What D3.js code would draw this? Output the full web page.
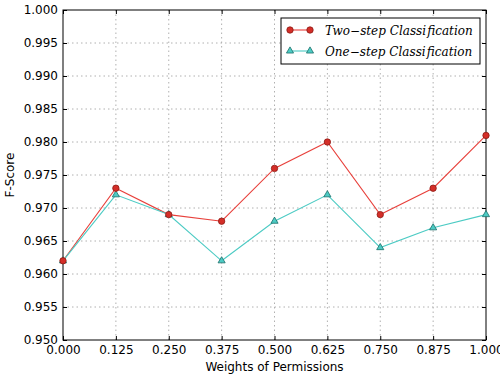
<!DOCTYPE html>
<meta charset="utf-8">
<style>
body { margin: 0; background: #fff; }
text { font-family: "DejaVu Sans", sans-serif; }
.grid line { stroke: #b0b0b0; stroke-dasharray: 1.5,3; stroke-width: 1; }
</style>
<body>
<div id="chart"></div>
<script src="https://cdn.jsdelivr.net/npm/d3@7"></script>
<script>

var WIDTH = 500;
var HEIGHT = 377;
var margin = {top: 10, right: 14, bottom: 37, left: 63};

var weights = [0, 0.125, 0.25, 0.375, 0.5, 0.625, 0.75, 0.875, 1.0];
var twoStep = [0.962, 0.973, 0.969, 0.968, 0.976, 0.980, 0.969, 0.973, 0.981];
var oneStep = [0.962, 0.972, 0.969, 0.962, 0.968, 0.972, 0.964, 0.967, 0.969];
var xTicks = [0, 0.125, 0.25, 0.375, 0.5, 0.625, 0.75, 0.875, 1.0];
var yTicks = [0.950, 0.955, 0.960, 0.965, 0.970, 0.975, 0.980, 0.985, 0.990, 0.995, 1.000];

var TWO_COLOR = '#e8413c';
var TWO_EDGE = '#8b1a14';
var ONE_COLOR = '#4ccbc4';
var ONE_EDGE = '#1a6e6a';

var svg = d3.select('#chart').append('svg')
    .attr('width', WIDTH)
    .attr('height', HEIGHT);

var w = WIDTH - margin.left - margin.right;
var h = HEIGHT - margin.top - margin.bottom;
var g = svg.append('g').attr('transform', 'translate(' + margin.left + ',' + margin.top + ')');

var x = d3.scaleLinear().domain([0, 1]).range([0, w]);
var y = d3.scaleLinear().domain([0.95, 1.0]).range([h, 0]);

// grid
g.append('g').attr('class', 'grid')
  .selectAll('line').data(xTicks.slice(1, -1)).enter().append('line')
    .attr('x1', function(d) { return x(d); })
    .attr('x2', function(d) { return x(d); })
    .attr('y1', 0).attr('y2', h);
g.append('g').attr('class', 'grid')
  .selectAll('line').data(yTicks.slice(1, -1)).enter().append('line')
    .attr('y1', function(d) { return y(d); })
    .attr('y2', function(d) { return y(d); })
    .attr('x1', 0).attr('x2', w);

// axes with inward ticks
var xAxis = g.append('g').attr('transform', 'translate(0,' + h + ')')
  .call(d3.axisBottom(x).tickValues(xTicks).tickFormat(d3.format('.3f')).tickSizeInner(-4).tickSizeOuter(0).tickPadding(5));
var xTop = g.append('g')
  .call(d3.axisTop(x).tickValues(xTicks).tickFormat('').tickSizeInner(-4).tickSizeOuter(0));
var yAxis = g.append('g')
  .call(d3.axisLeft(y).tickValues(yTicks).tickFormat(d3.format('.3f')).tickSizeInner(-4).tickSizeOuter(0).tickPadding(5));
var yRight = g.append('g').attr('transform', 'translate(' + w + ',0)')
  .call(d3.axisRight(y).tickValues(yTicks).tickFormat('').tickSizeInner(-4).tickSizeOuter(0));
[xAxis, xTop, yAxis, yRight].forEach(function(a) {
  a.select('.domain').remove();
  a.selectAll('line').attr('stroke', '#000');
  a.selectAll('text').attr('font-size', 12).attr('fill', '#000')
    .style('font-family', '"DejaVu Sans", sans-serif');
});

g.append('rect')
  .attr('width', w).attr('height', h)
  .attr('fill', 'none').attr('stroke', '#000').attr('stroke-width', 1);

// lines
var line2 = d3.line().x(function(d, i) { return x(weights[i]); }).y(function(d) { return y(d); });
g.append('path').datum(twoStep)
  .attr('d', line2).attr('fill', 'none').attr('stroke', TWO_COLOR).attr('stroke-width', 1.1);
g.append('path').datum(oneStep)
  .attr('d', line2).attr('fill', 'none').attr('stroke', ONE_COLOR).attr('stroke-width', 1.1);

var tri = d3.symbol().type(d3.symbolTriangle).size(22);
g.selectAll('.tri').data(oneStep).enter().append('path')
  .attr('class', 'tri')
  .attr('transform', function(d, i) { return 'translate(' + x(weights[i]) + ',' + y(d) + ')'; })
  .attr('d', tri)
  .attr('fill', ONE_COLOR).attr('stroke', ONE_EDGE).attr('stroke-width', 0.8);
g.selectAll('.dot').data(twoStep).enter().append('circle')
  .attr('class', 'dot')
  .attr('cx', function(d, i) { return x(weights[i]); })
  .attr('cy', function(d) { return y(d); })
  .attr('r', 3.2)
  .attr('fill', '#d42e28').attr('stroke', TWO_EDGE).attr('stroke-width', 0.8);

// axis labels
svg.append('text')
  .attr('x', margin.left + w / 2).attr('y', 371)
  .attr('text-anchor', 'middle').attr('font-size', 12)
  .text('Weights of Permissions');
svg.append('text')
  .attr('transform', 'translate(14,' + (margin.top + h / 2) + ') rotate(-90)')
  .attr('text-anchor', 'middle').attr('font-size', 12)
  .text('F-Score');

// legend
var lg = svg.append('g').attr('transform', 'translate(281,18)');
lg.append('rect')
  .attr('width', 199).attr('height', 46)
  .attr('fill', '#fff').attr('stroke', '#000').attr('stroke-width', 1);
var legendItems = [
  {label: 'Two\u2212step Classi\u200afication', color: TWO_COLOR, fill: '#d42e28', edge: TWO_EDGE, marker: 'circle'},
  {label: 'One\u2212step Classi\u200afication', color: ONE_COLOR, fill: ONE_COLOR, edge: ONE_EDGE, marker: 'triangle'}
];
legendItems.forEach(function(it, i) {
  var yy = 12 + i * 21;
  lg.append('line').attr('x1', 9).attr('x2', 29).attr('y1', yy).attr('y2', yy)
    .attr('stroke', it.color).attr('stroke-width', 1.1);
  [9, 29].forEach(function(px) {
    if (it.marker === 'circle') {
      lg.append('circle').attr('cx', px).attr('cy', yy).attr('r', 3.2)
        .attr('fill', it.fill).attr('stroke', it.edge).attr('stroke-width', 0.8);
    } else {
      lg.append('path').attr('transform', 'translate(' + px + ',' + yy + ')').attr('d', tri)
        .attr('fill', it.fill).attr('stroke', it.edge).attr('stroke-width', 0.8);
    }
  });
  lg.append('text').attr('x', 44).attr('y', yy + 4.5)
    .attr('font-size', 12).style('font-family', '"DejaVu Serif", serif').style('font-style', 'italic')
    .text(it.label);
});

</script>
</body>
